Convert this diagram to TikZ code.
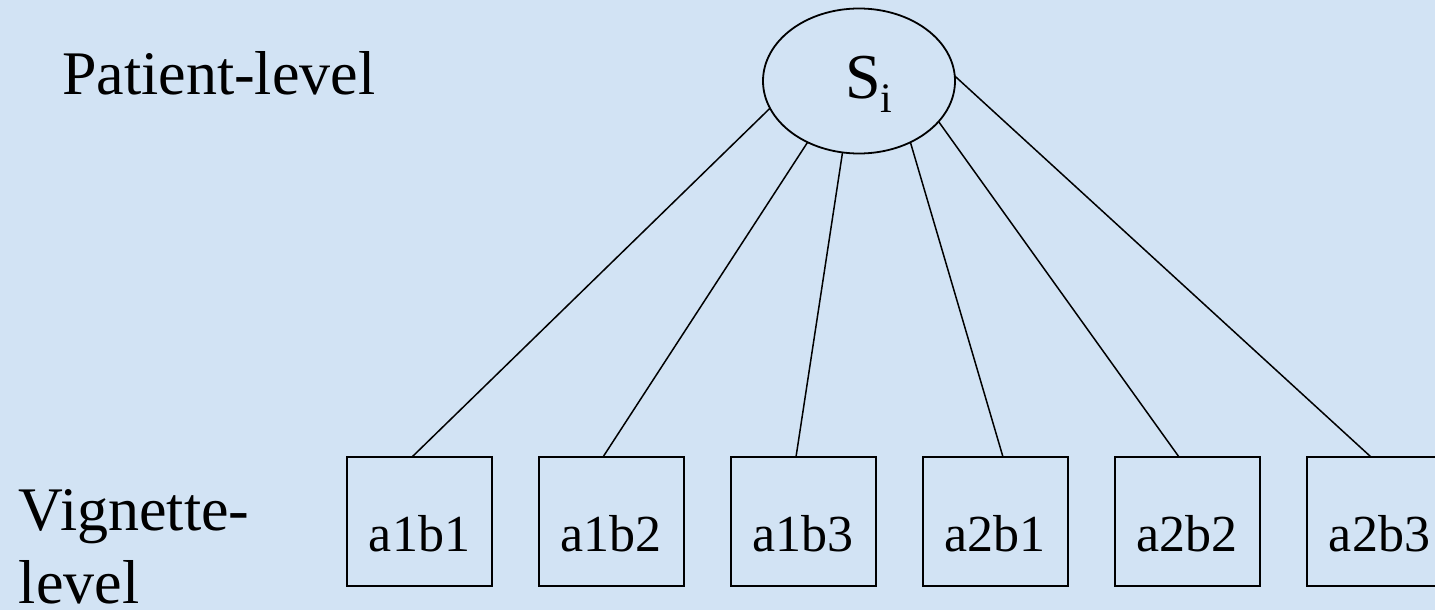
\documentclass[tikz,border=0pt]{standalone}
\usepackage{fontspec}
\setmainfont{Liberation Serif}
\usetikzlibrary{shapes.geometric}
\definecolor{paper}{RGB}{210,227,244}
\tikzset{
  lvl/.style={font=\fontsize{62}{73}\selectfont, inner sep=0pt, outer sep=0pt},
  cell/.style={draw=black, line width=2pt, rectangle, minimum width=145pt,
    minimum height=129pt, inner sep=0pt, outer sep=0pt,
    font=\fontsize{52}{52}\selectfont, text height=59pt, text depth=0pt},
  latent/.style={draw=black, line width=1.8pt, ellipse, minimum width=192pt,
    minimum height=145pt, inner sep=0pt, outer sep=0pt},
  link/.style={draw=black, line width=1.5pt}
}
\begin{document}
\begin{tikzpicture}[x=1pt,y=-1pt]
  \useasboundingbox (0,0) rectangle (1435,610);
  \clip (0,0) rectangle (1435,610);
  \fill[paper] (0,0) rectangle (1435,610);

  % level labels
  \node[lvl, anchor=base west] (pl) at (62,95) {Patient-level};
  \node[lvl, anchor=base west, align=left] (vl) at (19,603) {Vignette-\\level};

  % latent patient factor
  \node[latent] (S) at (859,81) {};
  \node[anchor=base west, inner sep=0pt, font=\fontsize{64}{64}\selectfont] (St) at (845,98)
    {S\raisebox{-14pt}{\fontsize{42}{42}\selectfont i}};

  % vignette cells
  \node[cell] (b1) at (419.5,521.5) {a1b1};
  \node[cell] (b2) at (611,521.5) {a1b2};
  \node[cell] (b3) at (803,521.5) {a1b3};
  \node[cell] (b4) at (995,521.5) {a2b1};
  \node[cell] (b5) at (1187,521.5) {a2b2};
  \node[cell] (b6) at (1379.5,521.5) {a2b3};

  % loadings
  \draw[link] (S.197) -- ([xshift=-7.5pt]b1.north);
  \draw[link] (S.230) -- ([xshift=-8pt]b2.north);
  \draw[link] (S.257.6) -- ([xshift=-7pt]b3.north);
  \draw[link] (S.310) -- ([xshift=8pt]b4.north);
  \draw[link] (S.333) -- ([xshift=-8pt]b5.north);
  \draw[link] (S.3.6) -- ([xshift=-8.5pt]b6.north);
\end{tikzpicture}
\end{document}
